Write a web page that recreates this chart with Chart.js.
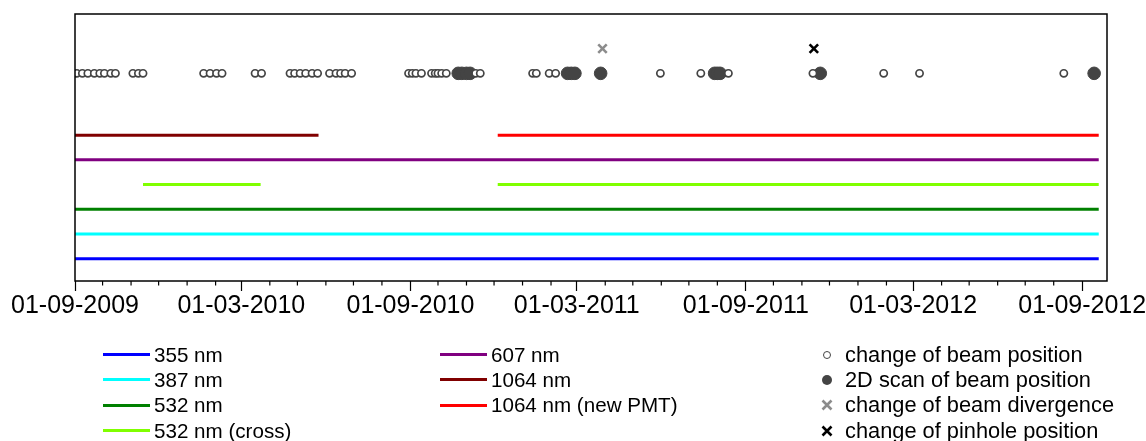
<!DOCTYPE html>
<html>
<head>
<meta charset="utf-8">
<script src="https://cdn.jsdelivr.net/npm/chart.js@4.4.1/dist/chart.umd.min.js"></script>
<style>
  body { margin: 0; background: #fff; font-family: "Liberation Sans", Arial, sans-serif; }
  #wrap { position: relative; width: 1146px; height: 441px; overflow: hidden; }
  #chart { position: absolute; left: 0; top: 0; }
  .legend { position: absolute; top: 342px; font-size: 20.6px; color: #000; }
  .row { height: 25.3px; display: flex; align-items: center; white-space: nowrap; }
  .swatch { width: 47px; height: 3px; margin-right: 4px; }
  .sym { width: 14px; height: 14px; margin-right: 11px; position: relative; }
  #legC { font-size: 21.8px; }
</style>
</head>
<body>
<div id="wrap">
  <canvas id="chart" width="1146" height="441"></canvas>
  <div class="legend" id="legA" style="left:103px"></div>
  <div class="legend" id="legB" style="left:440px"></div>
  <div class="legend" id="legC" style="left:820px"></div>
</div>
<script>
// axis range and tick months
const axisStart = "2009-09-01";
const axisEnd = "2012-09-28";
const lastTick = "2012-09-01";

// channel lines: name, level on the y axis, colour, [start, end] segments
const lineNames = ["355 nm", "387 nm", "532 nm", "532 nm (cross)", "607 nm", "1064 nm", "1064 nm (new PMT)"];
const lineLevels = [1, 2, 3, 4, 5, 6, 6];
const lineColors = ["#0000ff", "#00ffff", "#008000", "#80ff00", "#800080", "#800000", "#ff0000"];
const lineSpans = [
  [["2009-09-01", "2012-09-19"]],
  [["2009-09-01", "2012-09-19"]],
  [["2009-09-01", "2012-09-19"]],
  [["2009-11-14", "2010-03-22"], ["2010-12-05", "2012-09-19"]],
  [["2009-09-01", "2012-09-19"]],
  [["2009-09-01", "2010-05-24"]],
  [["2010-12-05", "2012-09-19"]]
];

// event markers
const beamShift = [
  "2009-09-03", "2009-09-09", "2009-09-15", "2009-09-22", "2009-09-28", "2009-10-03", "2009-10-10",
  "2009-10-15", "2009-11-03", "2009-11-09", "2009-11-14",
  "2010-01-19", "2010-01-26", "2010-02-02", "2010-02-08", "2010-03-16", "2010-03-23", "2010-04-23",
  "2010-04-28", "2010-05-04", "2010-05-10", "2010-05-17", "2010-05-23", "2010-06-05", "2010-06-12",
  "2010-06-17", "2010-06-22", "2010-06-29", "2010-08-30", "2010-09-03", "2010-09-07", "2010-09-13",
  "2010-09-24", "2010-09-28", "2010-10-01", "2010-10-05", "2010-10-10", "2010-11-11", "2010-11-16",
  "2011-01-12", "2011-01-16", "2011-01-30", "2011-02-06", "2011-05-31", "2011-07-14", "2011-08-13",
  "2011-11-13", "2012-01-29", "2012-03-08", "2012-08-12"
];
const beamScan = [
  "2010-10-23", "2010-10-27", "2010-11-01", "2010-11-05", "2011-02-19", "2011-02-23",
  "2011-02-27", "2011-03-27", "2011-07-29", "2011-08-01", "2011-08-04", "2011-11-21", "2012-09-14"
];
const divergenceChange = ["2011-03-29"];
const pinholeChange = ["2011-11-14"];
const eventNames = ["change of beam position", "2D scan of beam position", "change of beam divergence", "change of pinhole position"];
const eventLevels = [8.5, 8.5, 9.5, 9.5];

const t = s => new Date(s + "T00:00:00Z").getTime();

function lineData(spans, level) {
  const pts = [];
  spans.forEach((sp, i) => {
    if (i > 0) pts.push({ x: (t(spans[i - 1][1]) + t(sp[0])) / 2, y: null });
    pts.push({ x: t(sp[0]), y: level }, { x: t(sp[1]), y: level });
  });
  return pts;
}
const pointData = (dates, level) => dates.map(d => ({ x: t(d), y: level }));

// monthly ticks, labelled every six months
function monthTicks() {
  const out = [];
  const d = new Date(t(axisStart));
  while (d.getTime() <= t(lastTick)) {
    const m = d.getUTCMonth();
    out.push({ value: d.getTime(), major: m === 2 || m === 8 });
    d.setUTCMonth(m + 1);
  }
  return out;
}
const pad = n => String(n).padStart(2, "0");
const fmt = v => { const d = new Date(v); return pad(d.getUTCDate()) + "-" + pad(d.getUTCMonth() + 1) + "-" + d.getUTCFullYear(); };

const datasets = [
  { type: "scatter", label: eventNames[3], data: pointData(pinholeChange, eventLevels[3]), pointStyle: "crossRot",
    pointRadius: 6, borderColor: "#000", borderWidth: 2.6 },
  { type: "scatter", label: eventNames[2], data: pointData(divergenceChange, eventLevels[2]), pointStyle: "crossRot",
    pointRadius: 6, borderColor: "#8c8c8c", borderWidth: 2.6 },
  { type: "scatter", label: eventNames[0], data: pointData(beamShift, eventLevels[0]), pointStyle: "circle",
    pointRadius: 3.6, borderColor: "#444", backgroundColor: "#fff", borderWidth: 1.7 },
  { type: "scatter", label: eventNames[1], data: pointData(beamScan, eventLevels[1]), pointStyle: "circle",
    pointRadius: 6.3, borderColor: "#444", backgroundColor: "#444", borderWidth: 1 }
];
lineNames.forEach((name, i) => {
  datasets.push({ type: "line", label: name, data: lineData(lineSpans[i], lineLevels[i]), borderColor: lineColors[i],
    borderWidth: 3, pointRadius: 0, spanGaps: false, fill: false });
});

const frame = {
  id: "frame",
  afterDraw(chart) {
    const { ctx, chartArea: a, scales: { x } } = chart;
    ctx.save();
    ctx.strokeStyle = "#000";
    ctx.lineWidth = 1.5;
    ctx.strokeRect(a.left, a.top, a.right - a.left, a.bottom - a.top);
    ctx.lineWidth = 1.2;
    x.ticks.forEach(tk => {
      if (tk.major) return;
      const px = x.getPixelForValue(tk.value);
      ctx.beginPath();
      ctx.moveTo(px, a.bottom);
      ctx.lineTo(px, a.bottom + 4.5);
      ctx.stroke();
    });
    ctx.restore();
  }
};

new Chart(document.getElementById("chart"), {
  type: "scatter",
  data: { datasets },
  options: {
    responsive: false,
    animation: false,
    layout: { padding: { left: 75, right: 39, top: 14, bottom: 120 } },
    plugins: { legend: { display: false }, tooltip: { enabled: false } },
    scales: {
      x: {
        type: "linear",
        min: t(axisStart),
        max: t(axisEnd),
        afterBuildTicks: scale => { scale.ticks = monthTicks(); },
        // end labels may hang past the frame, so the plot keeps its own width
        afterFit: scale => { scale.paddingLeft = 0; scale.paddingRight = 0; },
        grid: {
          drawOnChartArea: false,
          tickLength: 10,
          tickWidth: 1.2,
          tickColor: c => (c.tick && c.tick.major ? "#000" : "rgba(0,0,0,0)")
        },
        border: { display: false },
        ticks: {
          autoSkip: false,
          maxRotation: 0,
          padding: 0,
          color: "#000",
          font: { family: "'Liberation Sans', Arial, sans-serif", size: 25 },
          callback: (v, i, ticks) => (ticks[i].major ? fmt(v) : "")
        }
      },
      y: { display: false, min: 0.1, max: 10.9 }
    }
  },
  plugins: [frame]
});

// legend columns
function lineRow(i) {
  return '<div class="row"><span class="swatch" style="background:' + lineColors[i] + '"></span>' + lineNames[i] + "</div>";
}
const symbols = [
  '<span style="position:absolute;left:3px;top:3px;width:6px;height:6px;border:1.5px solid #444;border-radius:50%"></span>',
  '<span style="position:absolute;left:2px;top:2px;width:10px;height:10px;background:#444;border-radius:50%"></span>',
  '<svg width="14" height="14" style="position:absolute;left:0;top:0"><path d="M2.5 2.5L11.5 11.5M11.5 2.5L2.5 11.5" stroke="#8c8c8c" stroke-width="2.6"/></svg>',
  '<svg width="14" height="14" style="position:absolute;left:0;top:0"><path d="M2.5 2.5L11.5 11.5M11.5 2.5L2.5 11.5" stroke="#000" stroke-width="2.6"/></svg>'
];
document.getElementById("legA").innerHTML = [0, 1, 2, 3].map(lineRow).join("");
document.getElementById("legB").innerHTML = [4, 5, 6].map(lineRow).join("");
document.getElementById("legC").innerHTML = eventNames.map((n, i) =>
  '<div class="row"><span class="sym">' + symbols[i] + "</span>" + n + "</div>").join("");
</script>
</body>
</html>
